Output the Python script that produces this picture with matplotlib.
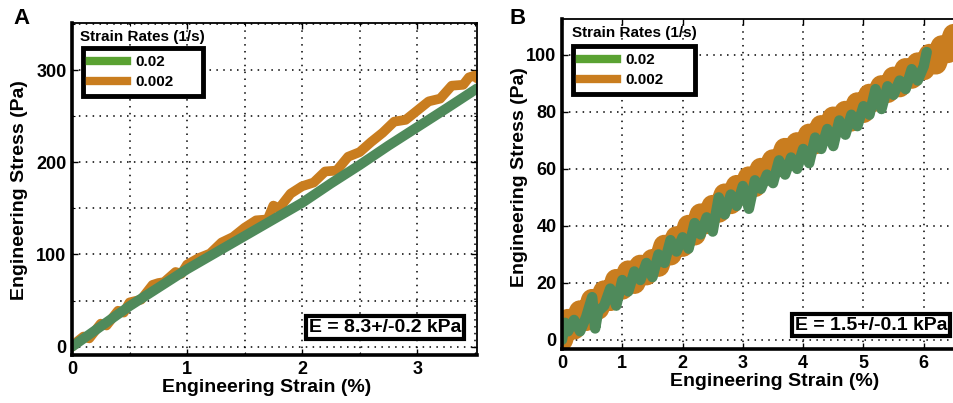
import matplotlib
matplotlib.use("Agg")
import matplotlib.pyplot as plt
from matplotlib.lines import Line2D
from matplotlib.ticker import MultipleLocator, FixedLocator

plt.rcParams['font.family'] = ['Liberation Sans', 'DejaVu Sans']
plt.rcParams['font.weight'] = 'bold'
plt.rcParams['axes.labelweight'] = 'bold'

# ---------------- data ----------------
series_labels = ["0.02", "0.002"]
legend_title = "Strain Rates (1/s)"

# Panel A
a_green_x = [0, 0.25, 0.5, 0.75, 1.0, 1.25, 1.5, 1.75, 2.0, 2.25, 2.5, 2.75, 3.0, 3.25, 3.52]
a_green_y = [0, 22, 44, 64, 84, 102, 120, 138, 156, 177, 197, 218, 238, 258, 280]

a_orange_x = [0, 0.05, 0.1, 0.15, 0.25, 0.3, 0.4, 0.45, 0.5, 0.6, 0.7, 0.75, 0.8, 0.9, 0.95,
              1.0, 1.1, 1.2, 1.3, 1.4, 1.5, 1.6, 1.7, 1.75, 1.8, 1.9, 2.0, 2.1, 2.2, 2.3,
              2.4, 2.5, 2.6, 2.7, 2.8, 2.9, 3.0, 3.1, 3.2, 3.3, 3.4, 3.45, 3.5, 3.52]
a_orange_y = [0, 6, 11, 9, 25, 23, 39, 37, 48, 51, 67, 69, 70, 81, 79,
              89, 96, 101, 113, 119, 129, 137, 138, 153, 150, 166, 174, 178, 190, 191,
              206, 211, 222, 232, 244, 246, 256, 266, 269, 283, 284, 292, 294, 291]

# Panel B
b_green_x = [0.0, 0.05, 0.1, 0.2, 0.3, 0.4, 0.5, 0.55, 0.6, 0.7, 0.8, 0.9, 1.0, 1.1, 1.2, 1.3,
             1.4, 1.5, 1.6, 1.7, 1.8, 1.9, 2.0, 2.1, 2.2, 2.3, 2.4, 2.5, 2.6, 2.7, 2.8, 2.9,
             3.0, 3.1, 3.2, 3.3, 3.4, 3.5, 3.6, 3.7, 3.8, 3.9, 4.0, 4.1, 4.2, 4.3, 4.4, 4.5,
             4.6, 4.7, 4.8, 4.9, 5.0, 5.1, 5.2, 5.3, 5.4, 5.5, 5.6, 5.7, 5.8, 5.9, 6.0, 6.05]
b_green_y = [0, 6, 3, 7, 3, 8, 15, 4, 10, 12, 18, 12, 21, 17, 24, 21,
             27, 22, 30, 27, 35, 31, 36, 32, 41, 37, 43, 38, 50, 44, 51, 47,
             54, 46, 56, 53, 58, 55, 63, 58, 64, 60, 67, 62, 71, 67, 74, 68,
             77, 72, 79, 75, 82, 79, 88, 81, 89, 86, 91, 88, 95, 91, 96, 101]

b_orange_x = [0.0, 0.1, 0.2, 0.3, 0.4, 0.5, 0.6, 0.7, 0.8, 0.9, 1.0, 1.1, 1.2, 1.3, 1.4, 1.5,
              1.6, 1.7, 1.8, 1.9, 2.0, 2.1, 2.2, 2.3, 2.4, 2.5, 2.6, 2.7, 2.8, 2.9, 3.0, 3.1,
              3.2, 3.3, 3.4, 3.5, 3.6, 3.7, 3.8, 3.9, 4.0, 4.1, 4.2, 4.3, 4.4, 4.5, 4.6, 4.7,
              4.8, 4.9, 5.0, 5.1, 5.2, 5.3, 5.4, 5.5, 5.6, 5.7, 5.8, 5.9, 6.0, 6.1, 6.2, 6.3,
              6.4, 6.5, 6.6, 6.7]
b_orange_y = [0, 7, 4, 10, 7, 14, 11, 17, 14, 21, 18, 24, 20, 26, 23, 28,
              26, 33, 30, 36, 33, 40, 37, 44, 41, 47, 45, 51, 48, 54, 51, 57,
              54, 60, 58, 63, 61, 67, 64, 69, 66, 72, 69, 75, 73, 78, 75, 80,
              77, 83, 80, 86, 84, 89, 87, 92, 89, 95, 92, 97, 95, 100, 97, 103,
              101, 107, 105, 110]

modulus_texts = ["E = 8.3+/-0.2 kPa", "E = 1.5+/-0.1 kPa"]
panel_letters = ["A", "B"]
xlabel = "Engineering Strain (%)"
ylabel = "Engineering Stress (Pa)"

# ---------------- style ----------------
GREEN_LINE = "#4f8a5b"
GREEN_LEG = "#5aa232"
ORANGE = "#c97d1f"

W, H = 954, 403
fig = plt.figure(figsize=(W / 100, H / 100), dpi=100)

def px_rect(l, t, r, b):
    return [l / W, 1 - b / H, (r - l) / W, (b - t) / H]

axA = fig.add_axes(px_rect(72, 23, 477, 355))
axB = fig.add_axes(px_rect(562, 19, 984, 349))

def style_axes(ax, ymaj, xmin=None, ymin=None):
    ax.yaxis.set_major_locator(MultipleLocator(ymaj))
    if xmin:
        ax.xaxis.set_minor_locator(MultipleLocator(xmin))
        ax.yaxis.set_minor_locator(MultipleLocator(ymin))
        ax.grid(True, which='both', color='black', linestyle=(0, (1, 3.5)), linewidth=1.1)
    else:
        ax.grid(True, which='major', color='black', linestyle=(0, (1, 3.5)), linewidth=1.1)
    ax.set_axisbelow(True)
    ax.tick_params(which='major', direction='in', length=4, width=1, top=True, right=True,
                   labelsize=13, pad=4)
    ax.tick_params(which='minor', direction='in', length=2.5, width=0.8, top=True, right=True)
    for s in ['left', 'bottom']:
        ax.spines[s].set_linewidth(2.6)
    for s in ['top', 'right']:
        ax.spines[s].set_linewidth(1.3)
    ax.set_xlabel(xlabel, fontsize=14, fontweight='bold', va='center')
    ax.set_ylabel(ylabel, fontsize=14, fontweight='bold', va='center', ha='center')

# Panel A
axA.plot(a_orange_x, a_orange_y, color=ORANGE, lw=7, solid_joinstyle='round', solid_capstyle='round')
axA.plot(a_green_x, a_green_y, color=GREEN_LINE, lw=7.2, solid_joinstyle='round', solid_capstyle='round')
axA.set_xlim(0, 3.52)
axA.set_ylim(-9, 351)
axA.xaxis.set_major_locator(FixedLocator([0, 1, 2, 3]))
style_axes(axA, 100, 0.5, 50)
axA.xaxis.set_label_coords((267 - 72) / 405, -(388 - 355) / 332)
axA.yaxis.set_label_coords((20 - 72) / 405, (355 - 190) / 332)

# Panel B
axB.plot(b_orange_x, b_orange_y, color=ORANGE, lw=16, solid_joinstyle='round', solid_capstyle='round')
axB.plot(b_green_x, b_green_y, color=GREEN_LINE, lw=7.5, solid_joinstyle='round', solid_capstyle='round')
axB.set_xlim(0, 7)
axB.set_ylim(-3.2, 112.6)
axB.xaxis.set_major_locator(FixedLocator([0, 1, 2, 3, 4, 5, 6]))
style_axes(axB, 20)
axB.xaxis.set_label_coords((775 - 562) / 422, -(382 - 349) / 330)
axB.yaxis.set_label_coords((520 - 562) / 422, (349 - 177) / 330)

# Legends
def add_legend(ax, box_l, box_t, box_r, box_b, title_x, title_y):
    handles = [Line2D([], [], color=GREEN_LEG, lw=6),
               Line2D([], [], color=ORANGE, lw=6)]
    leg = ax.legend(handles, series_labels, loc='upper left', mode='expand',
                    bbox_to_anchor=(box_l / W, 1 - box_b / H, (box_r - box_l) / W, (box_b - box_t) / H),
                    bbox_transform=fig.transFigure, borderaxespad=0,
                    fancybox=False, framealpha=1, edgecolor='black',
                    prop={'size': 11, 'weight': 'bold'},
                    handlelength=2.4, handletextpad=0.55, labelspacing=0.4,
                    borderpad=0.45)
    leg.get_frame().set_linewidth(3.5)
    fig.text(title_x / W, 1 - title_y / H, legend_title, fontsize=11, fontweight='bold',
             ha='left', va='center')

add_legend(axA, 83, 48, 203, 98, 80, 37)
add_legend(axB, 573, 46, 695, 97, 572, 33)

# Modulus annotations
axA.text((385 - 72) / 405, (355 - 327.5) / 332, modulus_texts[0], transform=axA.transAxes,
         fontsize=14, fontweight='bold', ha='center', va='center',
         bbox=dict(boxstyle='square,pad=0.15', fc='white', ec='black', lw=3))
fig.text(871 / W, 1 - 325 / H, modulus_texts[1],
         fontsize=14, fontweight='bold', ha='center', va='center',
         bbox=dict(boxstyle='square,pad=0.15', fc='white', ec='black', lw=3))

# Panel letters
fig.text(22 / W, 1 - 18 / H, panel_letters[0], fontsize=16, fontweight='bold', ha='center', va='center')
fig.text(518 / W, 1 - 18 / H, panel_letters[1], fontsize=16, fontweight='bold', ha='center', va='center')

fig.savefig("out.png", dpi=100)
